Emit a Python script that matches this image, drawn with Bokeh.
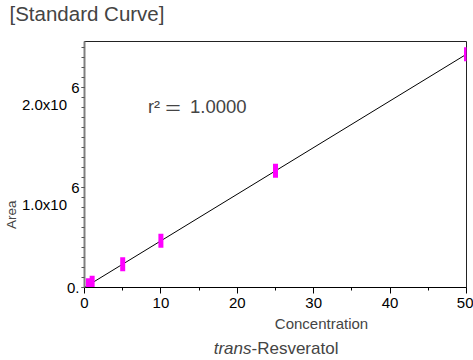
from bokeh.plotting import figure
from bokeh.models import Label, FixedTicker, Range1d
from bokeh.layouts import column, row
from bokeh.embed import file_html
from bokeh.resources import INLINE
import numpy as np

# ---- data ----
concentration = [0.5, 1, 5, 10, 25, 50]
area = [23000, 47000, 233000, 467000, 1167000, 2333000]
x_ticks = [0, 10, 20, 30, 40, 50]
x_minor_ticks = [5, 15, 25, 35, 45]
y_ticks = [0.0, 1.0e6, 2.0e6]
y_tick_base = ["0.", "1.0x10", "2.0x10"]
y_tick_exp = ["", "6", "6"]
y_minor_step = 1.0e5
r2_value = "1.0000"
title_text = "[Standard Curve]"
x_title = "Concentration"
y_title = "Area"
compound_italic = "trans"
compound_rest = "-Resveratol"

FONT = "Liberation Sans"
X_MAX = 50
Y_MAX = 2.46e6
NBSP = "\u00a0"

TOP_H = 30
LEFT_W = 18
MAIN_W = 473 - LEFT_W
MAIN_H = 284
BOTTOM_H = 360 - TOP_H - MAIN_H
FRAME_LEFT, FRAME_TOP, FRAME_BOTTOM = 84, 41, 287


def text_canvas(w, h):
    f = figure(width=w, height=h, x_range=Range1d(0, w), y_range=Range1d(h, 0),
               output_backend="svg", toolbar_location=None, min_border=0,
               x_axis_location=None, y_axis_location=None)
    f.outline_line_color = None
    f.background_fill_color = "white"
    f.border_fill_color = "white"
    f.grid.visible = False
    return f


# ---- main plot ----
p = figure(width=MAIN_W, height=MAIN_H, x_range=Range1d(0, X_MAX), y_range=Range1d(0, Y_MAX),
           output_backend="svg", toolbar_location=None,
           min_border_left=FRAME_LEFT - LEFT_W, min_border_right=7,
           min_border_top=FRAME_TOP - TOP_H,
           min_border_bottom=MAIN_H - (FRAME_BOTTOM - TOP_H))
p.background_fill_color = "white"
p.border_fill_color = "white"
p.outline_line_color = "#222222"
p.outline_line_width = 1
p.grid.visible = False

xa = p.xaxis[0]
xa.ticker = FixedTicker(ticks=x_ticks, minor_ticks=x_minor_ticks)
xa.axis_line_color = "black"
xa.major_tick_in = 0
xa.major_tick_out = 6
xa.minor_tick_in = 0
xa.minor_tick_out = 3
xa.major_tick_line_color = "black"
xa.minor_tick_line_color = "black"
xa.major_label_text_font = FONT
xa.major_label_text_font_size = "15px"
xa.major_label_text_color = "black"
xa.major_label_standoff = 4

ya = p.yaxis[0]
n_minor = int(round(Y_MAX / y_minor_step))
ya.ticker = FixedTicker(ticks=y_ticks, minor_ticks=[i * y_minor_step for i in range(n_minor + 1)])
ya.axis_line_color = "#808080"
ya.axis_line_width = 2
ya.major_tick_in = 0
ya.major_tick_out = 3
ya.minor_tick_in = 0
ya.minor_tick_out = 3
ya.major_tick_line_color = "#555555"
ya.minor_tick_line_color = "#555555"
ya.major_label_standoff = 2
ya.major_label_text_font = FONT
ya.major_label_text_font_size = "15px"
ya.major_label_text_color = "black"
ya.major_label_text_line_height = 1.0
overrides = {}
for v, base, exp in zip(y_ticks, y_tick_base, y_tick_exp):
    overrides[v] = (NBSP + "\n" + exp + "\n" + base + NBSP * 3) if exp else base
ya.major_label_overrides = overrides

# regression line
fit = np.polyfit(concentration, area, 1)
line_x = [0, X_MAX]
line_y = list(np.polyval(fit, line_x))
p.line(line_x, line_y, line_color="black", line_width=1)

# measured points
p.rect(x=concentration, y=area, width=5, height=14, width_units="screen", height_units="screen",
       fill_color="#FF00FF", line_color=None)

# r^2 annotation
p.add_layout(Label(x=0, y=Y_MAX, x_offset=63.5, y_offset=-65, text="r\u00b2",
                   text_align="left", text_baseline="middle", text_font=FONT, text_font_size="18px"))
p.add_layout(Label(x=0, y=Y_MAX, x_offset=79.5, y_offset=-65, text="\uff1d",
                   text_align="left", text_baseline="middle", text_font="Noto Sans CJK JP",
                   text_font_size="18px"))
p.add_layout(Label(x=0, y=Y_MAX, x_offset=105.5, y_offset=-65, text=r2_value,
                   text_align="left", text_baseline="middle", text_font=FONT, text_font_size="18.5px"))

# ---- surrounding text canvases ----
top = text_canvas(473, TOP_H)
top.add_layout(Label(x=9, y=13, text=title_text, text_align="left", text_baseline="middle",
                     text_font=FONT, text_font_size="20.5px"))

left = text_canvas(LEFT_W, MAIN_H)
left.add_layout(Label(x=10.5, y=230 - TOP_H, text=y_title, angle=np.pi / 2, text_align="center",
                      text_baseline="middle", text_font=FONT, text_font_size="13.5px"))

bottom = text_canvas(473, BOTTOM_H)
bottom.add_layout(Label(x=321, y=323 - TOP_H - MAIN_H, text=x_title, text_align="center",
                        text_baseline="middle", text_font=FONT, text_font_size="15px"))
bottom.add_layout(Label(x=251, y=348 - TOP_H - MAIN_H, text=compound_italic, text_align="right",
                        text_baseline="middle", text_font=FONT, text_font_size="17px",
                        text_font_style="italic"))
bottom.add_layout(Label(x=251, y=348 - TOP_H - MAIN_H, text=compound_rest, text_align="left",
                        text_baseline="middle", text_font=FONT, text_font_size="17px"))

layout = column(top, row(left, p), bottom)
open("out.html", "w").write(file_html(layout, INLINE))
